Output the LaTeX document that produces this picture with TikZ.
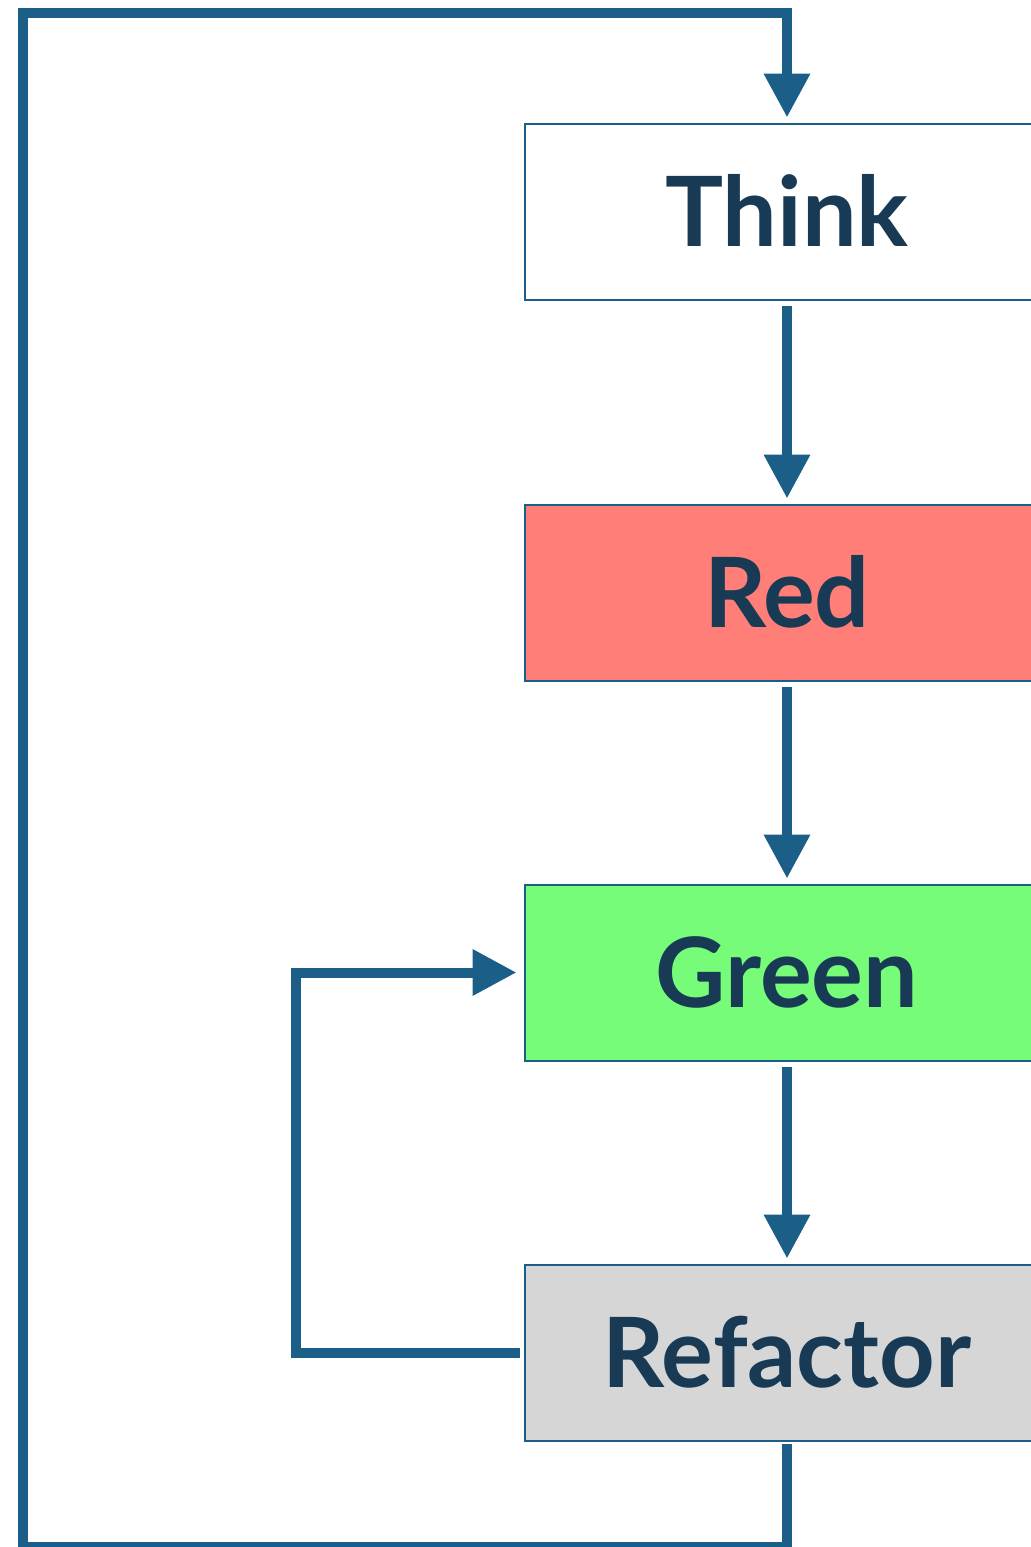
\documentclass[tikz,border=0pt]{standalone}
\usepackage{fontspec}
\setmainfont{Lato}
\usetikzlibrary{arrows.meta}
\definecolor{flowblue}{RGB}{27,94,135}
\definecolor{textblue}{RGB}{24,58,85}
\definecolor{redfill}{RGB}{255,127,120}
\definecolor{greenfill}{RGB}{118,252,120}
\definecolor{greyfill}{RGB}{214,214,214}
\tikzset{
	stepbox/.style={draw=flowblue, line width=1pt, minimum width=262.5pt, minimum height=88pt,
		inner sep=0pt, text height=35pt, text depth=0pt, text=textblue,
		font=\fontsize{48.5}{50}\selectfont\bfseries},
	flow/.style={draw=flowblue, line width=5pt, miter limit=10,
		-{Triangle[width=22pt,length=22pt]}, shorten >=2.5pt, shorten <=2.5pt}
}
\begin{document}
\begin{tikzpicture}[x=0.5pt,y=-0.5pt]
	\useasboundingbox (0,0) rectangle (1030,1547);
	\path node (think) at (787,211.5) [stepbox] {Think}
		  node (red) at (787,592.5) [stepbox, fill=redfill] {Red}
		  node (green) at (787,972.5) [stepbox, fill=greenfill] {Green}
		  node (refactor) at (787,1352.5) [stepbox, fill=greyfill] {Refactor};
	\coordinate (bl) at (23,1547);
	\coordinate (tl) at (23,12.5);
	\coordinate (il) at (296,1352.5);
	\draw [flow] (think) -- (red);
	\draw [flow] (red) -- (green);
	\draw [flow] (green) -- (refactor);
	\draw [flow, shorten <=2pt, shorten >=3.5pt] (refactor.west) -- (il) |- (green.west);
	\draw [flow, shorten <=1pt] (refactor.south) |- (bl) -- (tl) -| (think.north);
\end{tikzpicture}
\end{document}
